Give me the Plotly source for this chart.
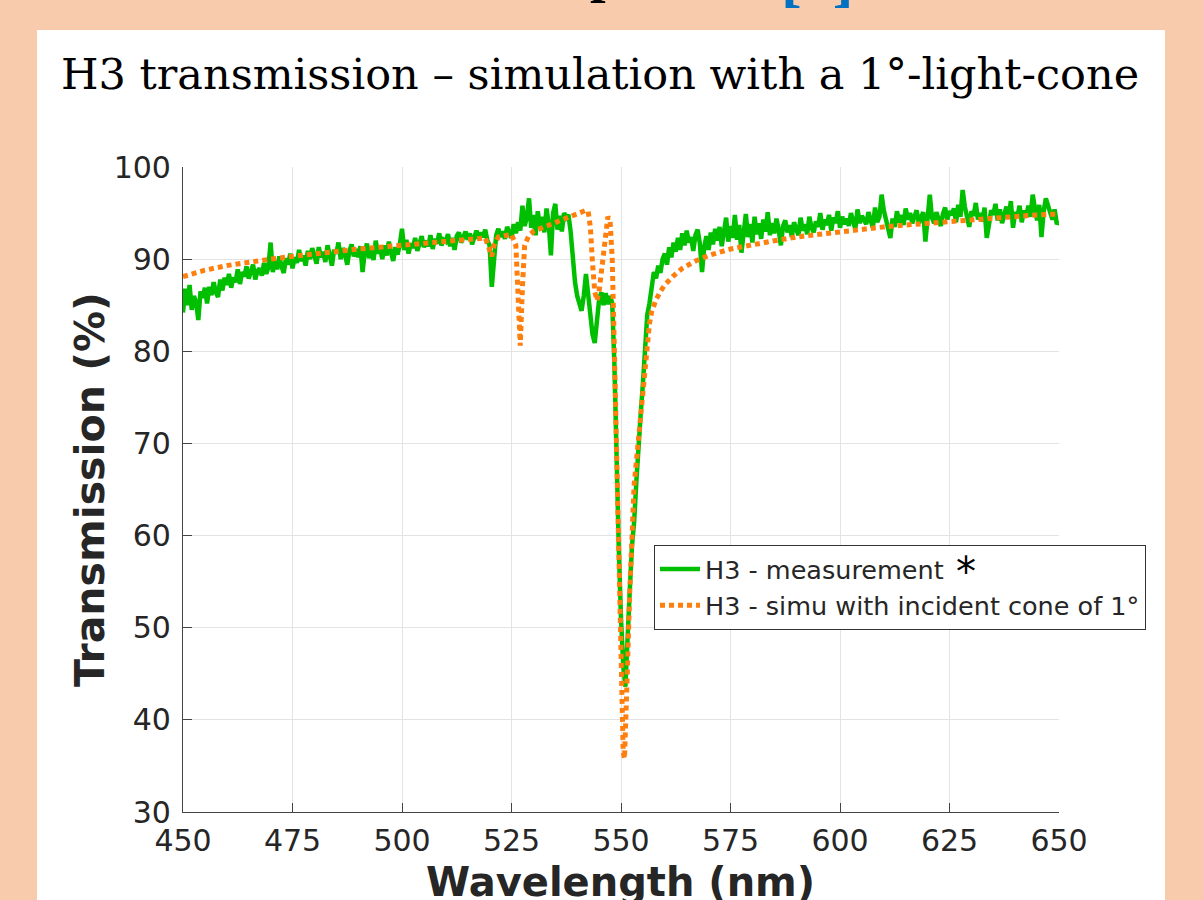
import numpy as np
import plotly.graph_objects as go

# ---------------- data ----------------
# measurement (green), 0.5 nm sampling, each block starts at the given wavelength
meas_450 = [84.2, 86.8, 85.0, 87.2, 84.5, 86.0, 85.3, 83.4, 86.5, 85.8, 86.9, 85.2, 87.0, 86.1, 87.5, 86.4, 85.9, 87.8, 86.6, 88.0]
meas_460 = [87.2, 88.4, 86.9, 88.0, 87.5, 88.9, 87.3, 88.6, 88.1, 89.2, 87.9, 88.5, 89.4, 87.8, 88.7, 89.0, 88.2, 89.6, 88.4, 89.1]
meas_470 = [91.8, 88.6, 89.8, 88.9, 90.3, 89.2, 88.5, 90.1, 89.4, 90.6, 89.0, 90.2, 89.6, 91.0, 89.8, 90.4, 89.3, 90.9, 90.0, 91.2]
meas_480 = [90.1, 89.5, 91.3, 90.2, 90.8, 89.7, 91.5, 90.4, 89.3, 91.0, 90.6, 91.8, 90.0, 91.2, 90.5, 89.4, 90.9, 91.6, 90.3, 91.1]
meas_490 = [90.2, 91.4, 88.6, 90.8, 91.7, 90.1, 91.3, 89.9, 92.0, 90.6, 91.2, 90.0, 91.5, 90.4, 91.9, 90.7, 89.8, 91.3, 90.5, 91.6]
meas_500 = [93.3, 91.0, 92.1, 90.6, 91.7, 91.2, 92.3, 90.9, 91.8, 92.5, 91.3, 92.0, 91.4, 92.6, 91.1, 92.2, 91.7, 92.8, 91.5, 92.1]
meas_510 = [91.9, 92.7, 91.4, 92.3, 91.0, 92.5, 92.9, 91.8, 92.4, 93.0, 92.1, 92.8, 91.6, 92.6, 93.1, 92.2, 92.9, 92.4, 93.2, 92.0]
meas_520 = [91.5, 87.0, 89.5, 92.6, 93.3, 92.4, 93.0, 92.2, 93.5, 92.7, 92.3, 93.8, 92.8, 94.0, 93.1, 95.8, 93.6, 94.5, 96.6, 93.4]
meas_530 = [94.8, 92.6, 95.2, 93.5, 94.6, 92.9, 95.5, 93.8, 90.4, 95.0, 96.0, 93.2, 94.7, 93.0, 95.0, 94.5]
meas_538 = [94.8, 93.0, 89.5, 87.5, 86.0, 85.2, 84.4, 86.0, 88.4, 86.2,
            83.6, 81.8, 80.9, 82.8, 85.6, 86.4, 85.0, 86.3, 85.1, 86.0,
            85.2, 78.5, 66.5, 58.5, 51.0, 46.0, 43.6, 50.0, 54.0, 58.8,
            61.5, 65.8, 70.2, 73.2, 76.5, 81.0, 84.0, 85.2, 86.8, 88.6,
            87.9, 89.3, 88.5, 90.0, 90.6, 89.4, 91.3, 90.2, 91.8]
meas_5625 = [90.8, 92.3, 91.0, 92.8, 91.5, 93.1, 91.8, 92.4, 90.9, 92.6, 93.2, 91.7, 88.6, 91.3, 92.5, 91.0, 92.9, 91.6, 93.3]
meas_572 = [92.0, 93.5, 91.4, 92.8, 94.5, 91.9, 93.6, 92.3, 94.8, 92.1, 93.7, 90.7, 93.0, 94.9, 92.4, 93.8, 91.8, 94.6, 92.7, 93.9]
meas_582 = [92.2, 94.3, 93.0, 95.1, 92.6, 93.9, 92.8, 94.4, 93.2, 91.5, 93.6, 94.2, 92.9, 93.7, 92.4, 94.0, 93.3, 92.6, 94.5, 93.1]
meas_592 = [93.8, 92.7, 94.6, 93.4, 92.9, 94.1, 93.5, 95.0, 93.2, 94.3, 93.7, 94.8, 93.1, 94.5, 93.9, 95.2, 93.4, 94.6, 93.8, 94.4]
meas_602 = [93.6, 95.0, 94.1, 93.3, 95.4, 93.9, 94.7, 94.2, 93.8, 95.1, 94.3, 93.4, 95.6, 94.0, 94.6, 97.0, 95.3, 94.2, 93.6, 92.3]
meas_612 = [94.4, 93.5, 95.2, 94.0, 94.8, 93.7, 95.5, 94.3, 95.0, 93.9, 94.6, 95.3, 93.9, 94.7, 95.1, 91.9, 94.2, 97.0, 94.5, 93.9]
meas_622 = [95.1, 94.2, 93.6, 94.9, 95.6, 94.3, 95.2, 94.8, 95.5, 94.0, 95.9, 94.6, 97.5, 95.7, 94.4, 93.5, 95.2, 94.7, 96.1, 94.3]
meas_632 = [95.0, 94.1, 95.6, 92.3, 93.7, 95.3, 94.8, 96.0, 94.2, 95.4, 93.9, 94.9, 95.7, 94.4, 96.3, 93.4, 95.1, 94.6, 95.8, 94.0]
meas_642 = [95.3, 94.5, 95.8, 94.6, 97.0, 95.5, 94.2, 95.9, 92.4, 95.2, 96.6, 95.8, 95.0, 94.3, 95.4, 93.8, 94.1]

meas_blocks = [(450, meas_450), (460, meas_460), (470, meas_470), (480, meas_480),
               (490, meas_490), (500, meas_500), (510, meas_510), (520, meas_520),
               (530, meas_530), (538, meas_538), (562.5, meas_5625), (572, meas_572),
               (582, meas_582), (592, meas_592), (602, meas_602), (612, meas_612),
               (622, meas_622), (632, meas_632), (642, meas_642)]
STEP = 0.5

# simulation with 1° incident cone (orange dotted)
sim_wl = [450, 455, 460, 465, 470, 475, 480, 485, 490, 495, 500, 505, 510, 515, 518, 519,
          520, 520.5, 521, 522, 524, 525, 526, 526.5, 527, 527.5, 528, 529, 530, 532, 534,
          536, 538, 540, 541, 542, 542.5, 543, 543.5, 544, 544.5, 545, 545.5, 546, 546.5,
          547, 547.5, 548, 548.5, 549, 549.5, 550, 550.5, 550.8, 551, 551.5, 552, 552.5,
          553, 553.5, 554, 554.5, 555, 555.5, 556, 556.5, 557, 558, 559, 560, 562, 564,
          567, 570, 575, 580, 585, 590, 595, 600, 605, 610, 615, 620, 625, 630, 635, 640,
          645, 650]
sim_T = [88.1, 88.8, 89.3, 89.7, 90.0, 90.3, 90.6, 90.9, 91.1, 91.3, 91.5, 91.8, 92.0, 92.2, 92.3, 92.3,
         91.0, 90.3, 91.5, 92.4, 92.6, 92.7, 91.5, 85.0, 80.6, 87.0, 91.5, 92.6, 93.0, 93.4, 93.8,
         94.2, 94.6, 94.9, 95.1, 95.3, 95.2, 93.5, 89.5, 86.5, 85.5, 86.5, 88.5, 91.0, 93.5,
         94.6, 94.2, 90.0, 80.0, 68.0, 56.0, 45.0, 36.5, 35.8, 38.0, 46.0, 54.0, 61.0,
         65.5, 68.0, 70.5, 73.0, 75.5, 78.5, 81.5, 83.0, 84.3, 85.6, 86.5, 87.2, 88.2, 89.0,
         89.8, 90.4, 91.1, 91.6, 92.0, 92.4, 92.7, 93.0, 93.2, 93.5, 93.7, 93.9, 94.1, 94.3, 94.5, 94.6,
         94.8, 94.9]

x_ticks = [450, 475, 500, 525, 550, 575, 600, 625, 650]
y_ticks = [30, 40, 50, 60, 70, 80, 90, 100]

title_text = "H3 transmission – simulation with a 1°-light-cone"
meas_name = "H3 - measurement"
sim_name = "H3 - simu with incident cone of 1°"
x_title = "Wavelength (nm)"
y_title = "Transmission (%)"

# ---------------- build ----------------
meas_wl, meas_T = [], []
for start, vals in meas_blocks:
    for i, v in enumerate(vals):
        meas_wl.append(start + STEP * i)
        meas_T.append(v)

W, H = 1203, 900
L, R, T, B = 183, 1059, 167, 812   # plot area in pixels
PEACH = "#F8CBAD"


def px2x(px):
    return (px - L) / (R - L)


def px2y(py):
    return (B - py) / (B - T)


fig = go.Figure()
fig.add_trace(go.Scatter(x=meas_wl, y=meas_T, mode="lines", name=meas_name,
                         line=dict(color="#00BE00", width=4.5)))
fig.add_trace(go.Scatter(x=sim_wl, y=sim_T, mode="lines", name=sim_name,
                         line=dict(color="#FF7F0E", width=5, dash="5px,4px")))

axis_font = dict(family="DejaVu Sans", size=30, color="#262626")
fig.update_xaxes(range=[450, 650], tickvals=x_ticks, ticks="inside", ticklen=9,
                 tickcolor="#444444", showline=True, linecolor="#444444", linewidth=1.2,
                 showgrid=True, gridcolor="#E3E3E3", gridwidth=1, zeroline=False,
                 tickfont=axis_font, ticklabelstandoff=2, automargin=False)
fig.update_yaxes(range=[30, 100], tickvals=y_ticks, ticks="inside", ticklen=9,
                 tickcolor="#444444", showline=True, linecolor="#444444", linewidth=1.2,
                 showgrid=True, gridcolor="#E3E3E3", gridwidth=1, zeroline=False,
                 tickfont=axis_font, ticklabelstandoff=5, automargin=False)

# white panel on peach slide
fig.add_shape(type="rect", xref="paper", yref="paper", layer="below",
              x0=px2x(37), x1=px2x(1165), y0=px2y(905), y1=px2y(30),
              line=dict(width=0), fillcolor="white")

annotations = [
    dict(text=title_text, xref="paper", yref="paper", x=px2x(600), y=px2y(74),
         xanchor="center", yanchor="middle", showarrow=False,
         font=dict(family="DejaVu Serif", size=43, color="black")),
    dict(text="<b>%s</b>" % y_title, xref="paper", yref="paper", x=px2x(90), y=px2y(490),
         xanchor="center", yanchor="middle", textangle=-90, showarrow=False,
         font=dict(family="DejaVu Sans", size=41, color="#262626")),
    dict(text="<b>%s</b>" % x_title, xref="paper", yref="paper", x=px2x(620), y=px2y(882),
         xanchor="center", yanchor="middle", showarrow=False,
         font=dict(family="DejaVu Sans", size=40, color="#262626")),
    dict(text="*", xref="paper", yref="paper", x=px2x(966), y=px2y(572),
         xanchor="center", yanchor="middle", showarrow=False,
         font=dict(family="DejaVu Sans", size=40, color="black")),
    dict(text="<b>p</b>", xref="paper", yref="paper", x=px2x(605), y=px2y(5),
         xanchor="center", yanchor="bottom", showarrow=False,
         font=dict(family="Liberation Serif", size=56, color="black")),
    dict(text="<b>[4]</b>", xref="paper", yref="paper", x=px2x(817), y=px2y(15),
         xanchor="center", yanchor="bottom", showarrow=False,
         font=dict(family="Liberation Serif", size=62, color="#0070C0")),
]

fig.update_layout(
    width=W, height=H,
    margin=dict(l=L, r=W - R, t=T, b=H - B, pad=0, autoexpand=False),
    paper_bgcolor=PEACH, plot_bgcolor="white",
    showlegend=True,
    legend=dict(x=px2x(654), y=px2y(545), xanchor="left", yanchor="top",
                bgcolor="white", bordercolor="#333333", borderwidth=1,
                font=dict(family="DejaVu Sans", size=25.5, color="#262626"),
                itemwidth=40, tracegroupgap=0),
    annotations=annotations,
)

fig.write_html("out.html",
               config={"displayModeBar": False},
               post_script="document.body.style.margin='0px';"
                           "document.body.style.background='%s';" % PEACH)
